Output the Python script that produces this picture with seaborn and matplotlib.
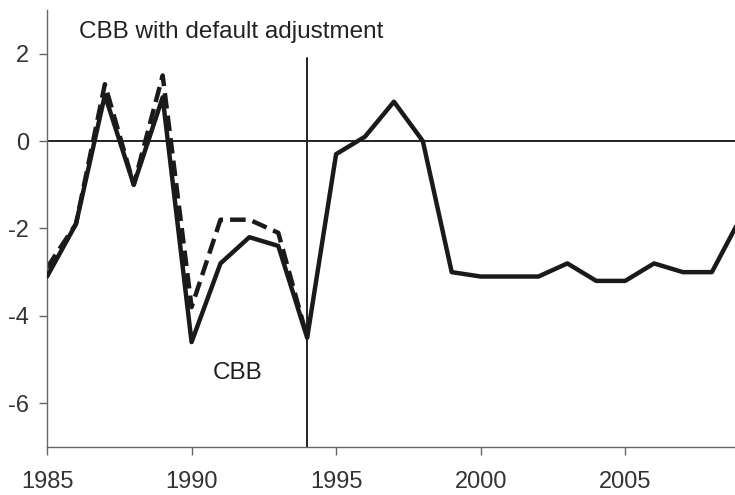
import pandas as pd
import numpy as np
import seaborn as sns
import matplotlib.pyplot as plt

years = list(range(1985, 2010))
cbb = [-3.1, -1.9, 1.05, -1.0, 1.0, -4.6, -2.8, -2.2, -2.4, -4.5,
       -0.3, 0.1, 0.9, 0.0, -3.0, -3.1, -3.1, -3.1, -2.8, -3.2,
       -3.2, -2.8, -3.0, -3.0, -1.75]

adj_years = list(range(1985, 1995))
cbb_adj = [-2.9, -1.9, 1.3, -1.0, 1.5, -3.8, -1.8, -1.8, -2.1, -4.5]

df = pd.DataFrame({'year': years, 'CBB': cbb})
df_adj = pd.DataFrame({'year': adj_years, 'CBB_adj': cbb_adj})

sns.set_style('ticks')
plt.rcParams['font.family'] = ['Liberation Sans', 'DejaVu Sans']
plt.rcParams['axes.unicode_minus'] = False

fig = plt.figure(figsize=(7.35, 4.95), dpi=100, facecolor='w')
ax = fig.add_axes([0.064, 0.097, 0.936, 0.883])

ax.axhline(0, color='#222222', lw=1.4, zorder=1)
ax.plot([1994, 1994], [-7, 1.9], color='#222222', lw=1.4, zorder=1)

sns.lineplot(data=df_adj, x='year', y='CBB_adj', ax=ax, color='#1a1a1a',
             lw=3.2, linestyle=(0, (3.5, 1.6)), zorder=2)
sns.lineplot(data=df, x='year', y='CBB', ax=ax, color='#1a1a1a', lw=3.2, zorder=3)

ax.set_xlim(1985, 2008.8)
ax.set_ylim(-7, 3)
ax.set_xticks([1985, 1990, 1995, 2000, 2005])
ax.set_yticks([-6, -4, -2, 0, 2])
ax.set_xlabel('')
ax.set_ylabel('')

sns.despine(ax=ax)
for s in ['left', 'bottom']:
    ax.spines[s].set_color('#666666')
    ax.spines[s].set_linewidth(1.0)
ax.tick_params(colors='#666666', labelcolor='#333333', labelsize=17, length=6, width=1.0)
ax.tick_params(axis='x', pad=11)
ax.tick_params(axis='y', pad=7)

ax.text(1986.1, 2.5, 'CBB with default adjustment', fontsize=17.5, color='#222222', va='center')
ax.text(1990.75, -5.3, 'CBB', fontsize=17.5, color='#222222', va='center')

plt.savefig('out.png', dpi=100)
